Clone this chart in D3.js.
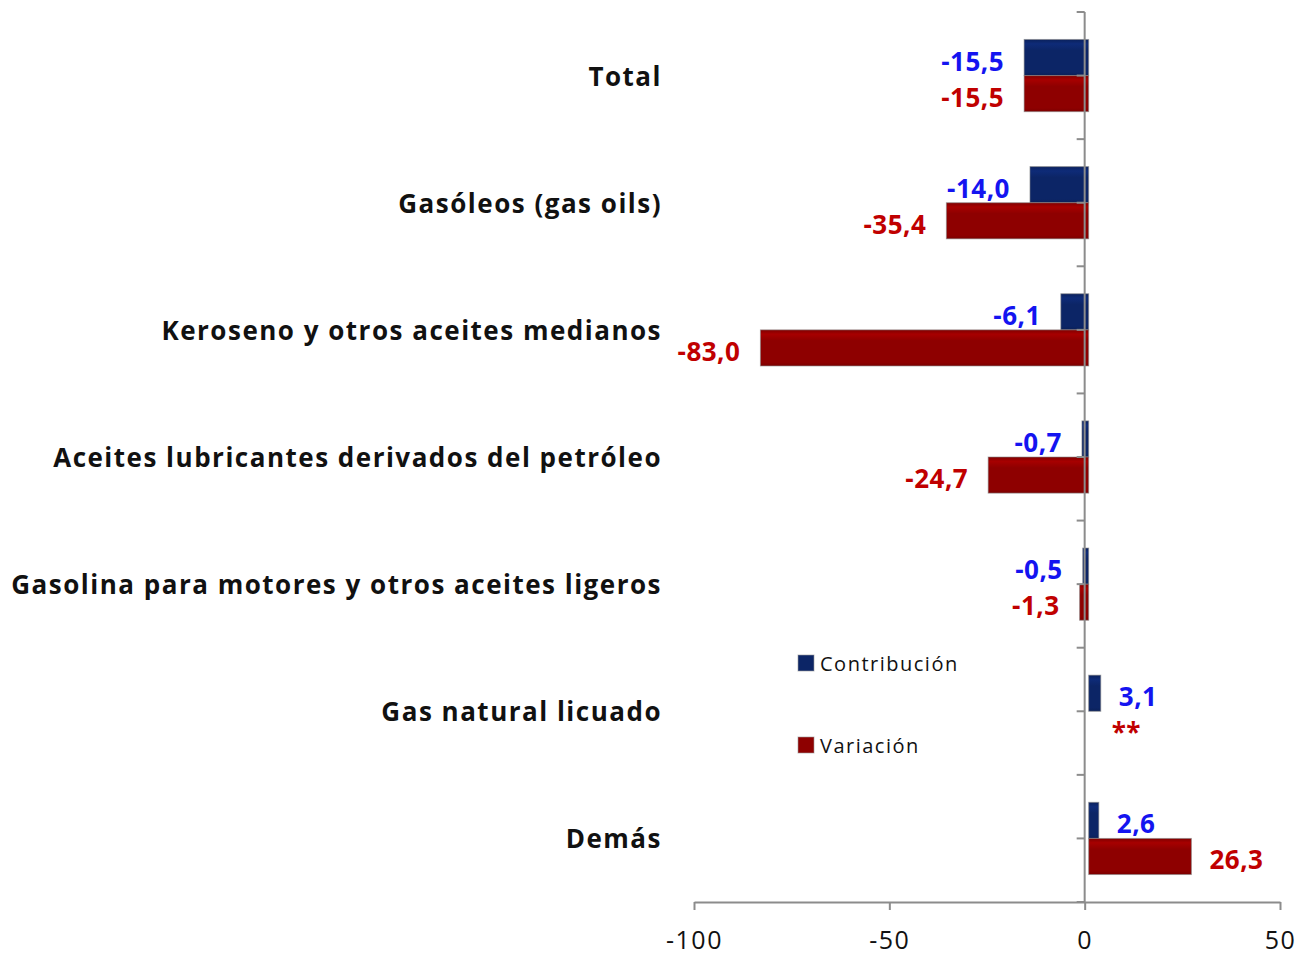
<!DOCTYPE html>
<html>
<head>
<meta charset="utf-8">
<script src="https://cdn.jsdelivr.net/npm/d3@7"></script>
<style>
  body { margin: 0; background: #fff; }
  text { font-family: "Open Sans", "Noto Sans", sans-serif; }
</style>
</head>
<body>
<div id="canvas"></div>
<script>
const categories = ["Total", "Gasóleos (gas oils)", "Keroseno y otros aceites medianos",
  "Aceites lubricantes derivados del petróleo", "Gasolina para motores y otros aceites ligeros",
  "Gas natural licuado", "Demás"];
const contribucion = [-15.5, -14.0, -6.1, -0.7, -0.5, 3.1, 2.6];
const variacion = [-15.5, -35.4, -83.0, -24.7, -1.3, null, 26.3];
const series = ["Contribución", "Variación"];
const xTicks = [-100, -50, 0, 50];

const width = 1302, height = 954;
const colors = { "Contribución": "#0c2566", "Variación": "#8e0000" };
const labelColors = { "Contribución": "#1414f0", "Variación": "#c00000" };

const svg = d3.select("#canvas").append("svg")
  .attr("width", width).attr("height", height);

// glossy look of the bars
const defs = svg.append("defs");
series.forEach((s, i) => {
  const base = d3.color(colors[s]);
  const g = defs.append("linearGradient").attr("id", "grad" + i)
    .attr("x1", 0).attr("y1", 0).attr("x2", 0).attr("y2", 1);
  g.append("stop").attr("offset", "0%").attr("stop-color", base.darker(0.3));
  g.append("stop").attr("offset", "12%").attr("stop-color", base.brighter(0.45));
  g.append("stop").attr("offset", "30%").attr("stop-color", base);
  g.append("stop").attr("offset", "90%").attr("stop-color", base);
  g.append("stop").attr("offset", "100%").attr("stop-color", base.darker(0.4));
});

const x = d3.scaleLinear().domain([-100, 50]).range([694, 1280]);
const y = d3.scaleBand().domain(categories).range([12, 902]).padding(0);
const ySub = d3.scaleBand().domain(series).range([0, y.bandwidth()])
  .paddingInner(0).paddingOuter(0.76);

const fmt = v => d3.format(".1f")(v).replace(".", ",").replace("\u2212", "-");
const x0 = x(0);

const rows = [];
categories.forEach((c, i) => {
  rows.push({ cat: c, s: "Contribución", v: contribucion[i], si: 0 });
  rows.push({ cat: c, s: "Variación", v: variacion[i], si: 1 });
});

const bars = svg.append("g");
bars.selectAll("rect").data(rows.filter(d => d.v !== null)).enter().append("rect")
  .attr("x", d => d.v < 0 ? x(d.v) : x0 + 4)
  .attr("y", d => y(d.cat) + ySub(d.s))
  .attr("width", d => Math.abs(x(d.v) - x0) + (d.v < 0 ? 4 : 0))
  .attr("height", ySub.bandwidth())
  .attr("fill", d => "url(#grad" + d.si + ")")
  .attr("stroke", "#888")
  .attr("stroke-opacity", 0.6)
  .attr("stroke-width", 1);

// value labels ("**" where no value)
svg.append("g").selectAll("text").data(rows).enter().append("text")
  .attr("x", d => d.v === null ? x0 + 27 : (d.v < 0 ? x(d.v) - 20 : x(d.v) + 22))
  .attr("y", d => y(d.cat) + ySub(d.s) + ySub.bandwidth() / 2 + 3)
  .attr("text-anchor", d => d.v !== null && d.v < 0 ? "end" : "start")
  .attr("dominant-baseline", "central")
  .attr("font-size", 26).attr("font-weight", "bold").attr("letter-spacing", 0.5)
  .attr("fill", d => labelColors[d.s])
  .text(d => d.v === null ? "**" : fmt(d.v));

// category labels
svg.append("g").selectAll("text").data(categories).enter().append("text")
  .attr("x", 662)
  .attr("y", d => y(d) + y.bandwidth() / 2)
  .attr("text-anchor", "end")
  .attr("dominant-baseline", "central")
  .attr("font-size", 26).attr("font-weight", "bold").attr("letter-spacing", 1.5)
  .attr("fill", "#111")
  .text(d => d);

// vertical axis at zero, ticks every half band
const axisColor = "#8c8c8c";
const yTicks = [];
categories.forEach(c => { yTicks.push(y(c)); yTicks.push(y(c) + y.bandwidth() / 2); });
yTicks.push(y.range()[1]);
const ax = svg.append("g");
ax.append("line").attr("x1", x0).attr("x2", x0).attr("y1", 12).attr("y2", 902)
  .attr("stroke", axisColor).attr("stroke-width", 2);
ax.selectAll("line.t").data(yTicks).enter().append("line").attr("class", "t")
  .attr("x1", x0 - 8).attr("x2", x0).attr("y1", d => d).attr("y2", d => d)
  .attr("stroke", axisColor).attr("stroke-width", 2);

// horizontal axis
const xAxis = svg.append("g").attr("transform", "translate(0,902)")
  .call(d3.axisBottom(x).tickValues(xTicks).tickSize(8).tickSizeOuter(0).tickFormat(d => d));
xAxis.select(".domain").attr("stroke", axisColor).attr("stroke-width", 2);
xAxis.selectAll(".tick line").attr("stroke", axisColor).attr("stroke-width", 2);
xAxis.selectAll(".tick text").attr("font-size", 25).attr("fill", "#111")
  .attr("font-family", "'Open Sans', sans-serif").attr("letter-spacing", 1.5)
  .attr("dy", "1.42em");

// legend
const legend = svg.append("g");
series.forEach((s, i) => {
  const ly = 663 + i * 82;
  legend.append("rect").attr("x", 798).attr("y", ly - 8).attr("width", 16).attr("height", 16)
    .attr("fill", colors[s]).attr("stroke", "#999").attr("stroke-opacity", 0.6);
  legend.append("text").attr("x", 820).attr("y", ly).attr("dominant-baseline", "central")
    .attr("font-size", 20).attr("fill", "#111").attr("letter-spacing", 1.5).text(s);
});
</script>
</body>
</html>
